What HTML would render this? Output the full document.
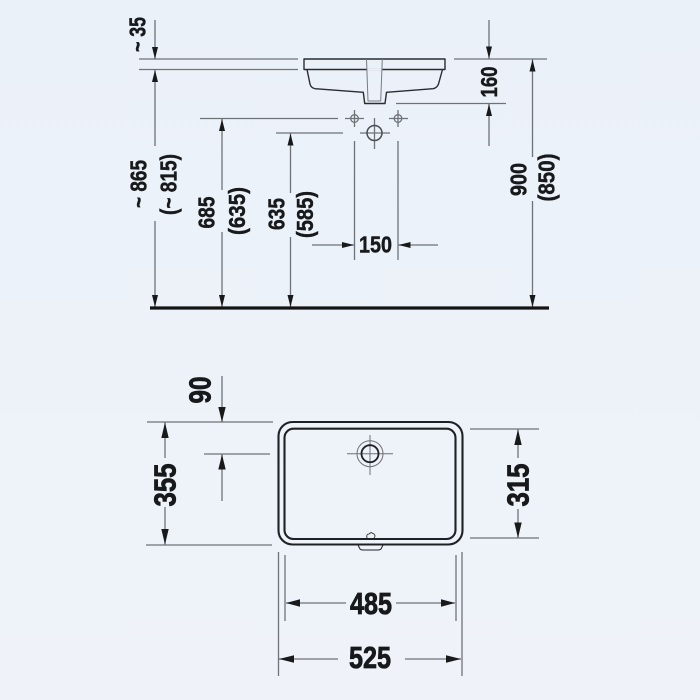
<!DOCTYPE html>
<html>
<head>
<meta charset="utf-8">
<style>
html,body{margin:0;padding:0;width:700px;height:700px;overflow:hidden;background:#edf2f9}
svg{display:block}
text{font-family:"Liberation Sans Narrow","Liberation Sans",sans-serif;font-weight:bold;fill:#17191b;stroke:#17191b;text-anchor:middle}
.s{font-size:23.5px;stroke-width:.45px}
.l{font-size:31px;stroke-width:.8px}
</style>
</head>
<body>
<svg width="700" height="700" viewBox="0 0 700 700" xmlns="http://www.w3.org/2000/svg">
<defs>
<linearGradient id="bg" x1="0" y1="0" x2="0" y2="1"><stop offset="0" stop-color="#ebf1f9"/><stop offset="1" stop-color="#eff3f9"/></linearGradient>
</defs>
<rect width="700" height="700" fill="url(#bg)"/>

<!-- thin dimension lines -->
<g stroke="#6f7378" stroke-width="1.3" fill="none">
<path d="M139 59H298M139 69.5H298M155 20V59M155 70V146"/>
<path d="M200 118.5H338M276 133H343M222 118.5V190M222 232V308M290.5 133V193M290.5 237V308M155 221V308"/>
<path d="M454 59H547M396 103.5H506M489 20V59M489 104V146M532.5 59V157M532.5 201V308"/>
<path d="M345 118.5H364M389 118.5H408M354.5 110V127M398 110V127M360 133H390M374.5 118V149"/>
<path d="M354.5 141V260M398 141V260M312 245H354M398 245H438"/>
<path d="M147 422H273M146 545H272M165 422V458M165 507V545M222 376V422M204 454H270M222 454V501"/>
<path d="M470 429H539M470 538H539M518 429V458M518 509V538"/>
<path d="M278.5 552V676M285 555V621M456 555V621M462 552V676M286 603H346M396 603H455M279 659H338M405 659H461"/>
<path d="M347 453.7H393M370 435V475" stroke-width="1"/>
<circle cx="354.5" cy="118.5" r="3.8"/>
<circle cx="398" cy="118.5" r="3.8"/>
<circle cx="374.5" cy="133" r="7.5" stroke="#4a4e52" stroke-width="1.5"/>
<circle cx="370" cy="453.7" r="13" stroke-width="1"/>
</g>

<!-- floor -->
<path d="M150 308H549" stroke="#141414" stroke-width="3.2" fill="none"/>

<!-- basin side view -->
<g stroke="#2a2d30" fill="none" stroke-width="1.4" stroke-linejoin="round">
<path d="M304 59H445V69.5H304Z"/>
<path d="M307 69.5L310 84Q311 88 315 88.7L363.3 92.3L364.7 103.5H385L386.5 92.3L433 88.7Q437 88 438.5 84L442.5 69.5"/>
<path d="M366.5 69.5H382.3" stroke="#edf2f9" stroke-width="1.8"/>
<path d="M366.5 59L368 101H380.7L382.3 59" stroke="#777b80" stroke-width="1"/>
</g>

<!-- basin plan view -->
<g fill="none" stroke="#1e2124">
<rect x="278.5" y="422" width="184" height="122.5" rx="14" stroke-width="2.1"/>
<rect x="284.5" y="428.7" width="171" height="110.3" rx="9" stroke-width="2.1"/>
<circle cx="370" cy="453.7" r="8.5" stroke-width="1.8"/>
<path d="M358 545L360 549Q361 550 363 550H378Q380 550 381 549L383 545" stroke-width="1"/>
<path d="M367 538Q366 534 369 534L371 532.5L374 534Q376 536 374 538" stroke-width="0.8"/>
</g>

<!-- arrowheads -->
<g fill="#17191b">
<path d="M155 59L152 47H158Z"/>
<path d="M155 70L152 82H158Z"/>
<path d="M222 119L219 131H225Z"/>
<path d="M290.5 133.5L287.5 145.5H293.5Z"/>
<path d="M155 307L152 295H158Z"/>
<path d="M222 307L219 295H225Z"/>
<path d="M290.5 307L287.5 295H293.5Z"/>
<path d="M532.5 307L529.5 295H535.5Z"/>
<path d="M532.5 59.5L529.5 71.5H535.5Z"/>
<path d="M489 58.5L486 46.5H492Z"/>
<path d="M489 104L486 116H492Z"/>
<path d="M354 245L342 242V248Z"/>
<path d="M398.5 245L410.5 242V248Z"/>
<path d="M222 422L218.3 407H225.7Z"/>
<path d="M222 454.5L218.3 469.5H225.7Z"/>
<path d="M165 422.5L161.3 438H168.7Z"/>
<path d="M165 544.5L161.3 529H168.7Z"/>
<path d="M518 429.5L514.3 445H521.7Z"/>
<path d="M518 538L514.3 522.5H521.7Z"/>
<path d="M286 603L300 599.3V606.7Z"/>
<path d="M455 603L441 599.3V606.7Z"/>
<path d="M279 659L294 655.3V662.7Z"/>
<path d="M461 659L446 655.3V662.7Z"/>
</g>

<!-- small labels -->
<text class="s" transform="translate(137.5,34.5) rotate(-90)" y="8" textLength="35" lengthAdjust="spacingAndGlyphs">~ 35</text>
<text class="s" transform="translate(138.5,184) rotate(-90)" y="8" textLength="48" lengthAdjust="spacingAndGlyphs">~ 865</text>
<text class="s" transform="translate(168.5,184.5) rotate(-90)" y="8" textLength="61" lengthAdjust="spacingAndGlyphs">(~ 815)</text>
<text class="s" transform="translate(206.5,212.5) rotate(-90)" y="8" textLength="32" lengthAdjust="spacingAndGlyphs">685</text>
<text class="s" transform="translate(237,211) rotate(-90)" y="8" textLength="48" lengthAdjust="spacingAndGlyphs">(635)</text>
<text class="s" transform="translate(276.5,214) rotate(-90)" y="8" textLength="32" lengthAdjust="spacingAndGlyphs">635</text>
<text class="s" transform="translate(305,214.5) rotate(-90)" y="8" textLength="47" lengthAdjust="spacingAndGlyphs">(585)</text>
<text class="s" transform="translate(518.5,179.5) rotate(-90)" y="8" textLength="33" lengthAdjust="spacingAndGlyphs">900</text>
<text class="s" transform="translate(546.5,177.5) rotate(-90)" y="8" textLength="48" lengthAdjust="spacingAndGlyphs">(850)</text>
<text class="s" transform="translate(489,82) rotate(-90)" y="8" textLength="31" lengthAdjust="spacingAndGlyphs">160</text>
<text class="s" x="375.5" y="252.5" textLength="33" lengthAdjust="spacingAndGlyphs">150</text>

<!-- large labels -->
<text class="l" transform="translate(199.5,390) rotate(-90)" y="10.8" textLength="27" lengthAdjust="spacingAndGlyphs">90</text>
<text class="l" transform="translate(164.5,485) rotate(-90)" y="10.8" textLength="43" lengthAdjust="spacingAndGlyphs">355</text>
<text class="l" transform="translate(517.5,485) rotate(-90)" y="10.8" textLength="43" lengthAdjust="spacingAndGlyphs">315</text>
<text class="l" x="371" y="613.8" textLength="42" lengthAdjust="spacingAndGlyphs">485</text>
<text class="l" x="370" y="667.8" textLength="42" lengthAdjust="spacingAndGlyphs">525</text>
</svg>
</body>
</html>
